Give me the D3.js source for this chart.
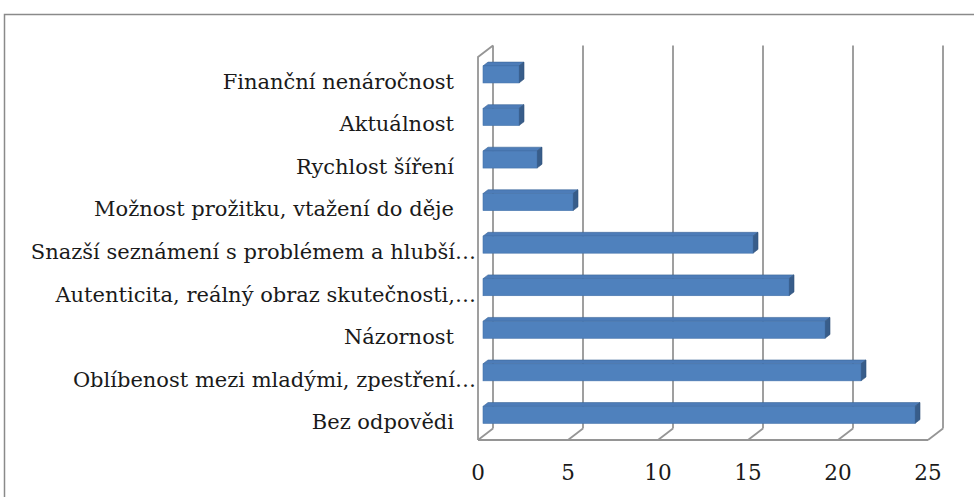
<!DOCTYPE html>
<html><head><meta charset="utf-8">
<script src="https://cdn.jsdelivr.net/npm/d3@7"></script>
<style>html,body{margin:0;padding:0;background:#fff;overflow:hidden}</style>
</head><body>
<svg id="chart" width="974" height="497"></svg>
<script>
const categories = [
  "Finanční nenáročnost",
  "Aktuálnost",
  "Rychlost šíření",
  "Možnost prožitku, vtažení do děje",
  "Snazší seznámení s problémem a hlubší…",
  "Autenticita, reálný obraz skutečnosti,…",
  "Názornost",
  "Oblíbenost mezi mladými, zpestření…",
  "Bez odpovědi"
];
const values = [2, 2, 3, 5, 15, 17, 19, 21, 24];
const tickValues = [0, 5, 10, 15, 20, 25];

const svg = d3.select("#chart");
const font = "'DejaVu Serif', serif";
const grid = "#959595";

// outer frame
svg.append("rect").attr("x", 4.5).attr("y", 14.5).attr("width", 1200).attr("height", 1200)
  .attr("fill", "none").attr("stroke", "#8a8a8a").attr("stroke-width", 1.5);

const x = d3.scaleLinear().domain([0, 25]).range([478, 928]);
const y = d3.scaleBand().domain(categories).range([57, 440]).paddingInner(0.6).paddingOuter(0.3);
const D = {x: 15, y: -11.5};
const top0 = 57, bot0 = 440;

const g = svg.append("g");
// back wall gridlines
g.selectAll("line.back").data(tickValues).join("line")
  .attr("x1", d => x(d) + D.x).attr("x2", d => x(d) + D.x)
  .attr("y1", top0 + D.y).attr("y2", bot0 + D.y)
  .attr("stroke", grid).attr("stroke-width", 1.8);
// floor diagonals
g.selectAll("line.floor").data(tickValues).join("line")
  .attr("x1", d => x(d)).attr("x2", d => x(d) + D.x)
  .attr("y1", bot0).attr("y2", bot0 + D.y)
  .attr("stroke", grid).attr("stroke-width", 1.8);
// floor front edge
g.append("line").attr("x1", x(0)).attr("x2", x(25)).attr("y1", bot0).attr("y2", bot0)
  .attr("stroke", grid).attr("stroke-width", 1.8);
// left wall front edge and top
g.append("path")
  .attr("d", `M${x(0)},${bot0}L${x(0)},${top0}L${x(0) + D.x},${top0 + D.y}`)
  .attr("fill", "none").attr("stroke", grid).attr("stroke-width", 1.8);

// bars
const fx = D.x / 3, fy = D.y / 3;
const bars = svg.append("g").selectAll("g").data(categories.map((c, i) => ({c, v: values[i]}))).join("g");
bars.each(function(d) {
  const s = d3.select(this);
  const x0 = x(0) + fx, x1 = x(d.v) + fx;
  const y0 = y(d.c) + fy, h = y.bandwidth();
  // top face
  s.append("path")
    .attr("d", `M${x0},${y0}L${x1},${y0}L${x1 + fx},${y0 + fy}L${x0 + fx},${y0 + fy}Z`)
    .attr("fill", "#4d7cb8").attr("stroke", "#3d6699").attr("stroke-width", 0.6);
  // side face
  s.append("path")
    .attr("d", `M${x1},${y0}L${x1 + fx},${y0 + fy}L${x1 + fx},${y0 + fy + h}L${x1},${y0 + h}Z`)
    .attr("fill", "#385d8a").attr("stroke", "#2f5078").attr("stroke-width", 0.6);
  // front face
  s.append("rect").attr("x", x0).attr("y", y0).attr("width", x1 - x0).attr("height", h)
    .attr("fill", "#4f81bd").attr("stroke", "#4573ab").attr("stroke-width", 0.6);
});

// category labels
svg.append("g").selectAll("text").data(categories).join("text")
  .attr("x", d => d.endsWith("…") ? 476 : 454)
  .attr("y", d => y(d) + y.bandwidth() / 2 + 10.5)
  .attr("text-anchor", "end")
  .attr("font-family", font).attr("font-size", 21).attr("fill", "#1a1a1a")
  .text(d => d);

// value tick labels
svg.append("g").selectAll("text").data(tickValues).join("text")
  .attr("x", d => x(d)).attr("y", 480)
  .attr("text-anchor", "middle")
  .attr("font-family", font).attr("font-size", 21.5).attr("fill", "#1a1a1a")
  .text(d => d);
</script>
</body></html>
